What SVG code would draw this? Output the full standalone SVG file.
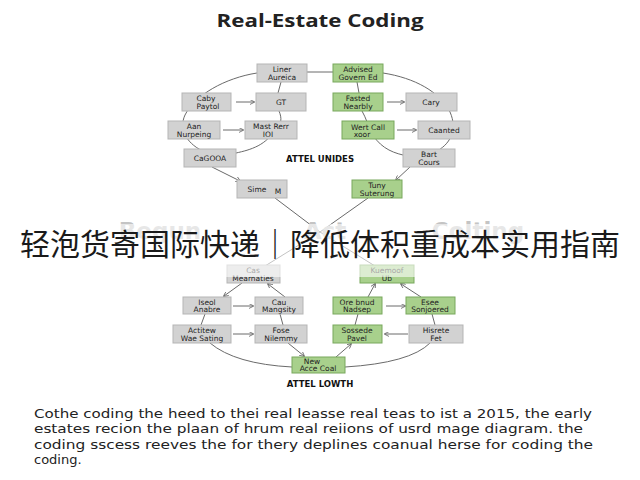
<svg xmlns="http://www.w3.org/2000/svg" width="640" height="480" viewBox="0 0 640 480">
<defs>
<marker id="ah" viewBox="0 0 6 6" refX="5" refY="3" markerWidth="5" markerHeight="5" orient="auto"><path d="M0,0 L6,3 L0,6" fill="none" stroke="#666" stroke-width="1"/></marker>
<style>
.g rect{fill:#d2d2d2;stroke:#b5b5b5;stroke-width:1}
.v rect{fill:#a8d08c;stroke:#78a85c;stroke-width:1}
.n text{font-family:"DejaVu Sans",sans-serif;font-size:7.5px;fill:#222;text-anchor:middle}
.c path,.c line{fill:none;stroke:#6a6a6a;stroke-width:1}
.ar{marker-end:url(#ah)}
.lbl{font-family:"DejaVu Sans",sans-serif;font-weight:bold;font-size:8.5px;fill:#111;text-anchor:middle}
.wm{font-family:"DejaVu Sans",sans-serif;font-weight:bold;font-size:23px;fill:#c4c4c4;text-anchor:middle}
.body{font-family:"DejaVu Sans",sans-serif;font-size:13px;fill:#222}
</style>
</defs>
<rect width="640" height="480" fill="#fff"/>
<text x="320" y="27" font-family="'Open Sans',sans-serif" font-weight="bold" font-size="17" fill="#222" text-anchor="middle" textLength="207" lengthAdjust="spacingAndGlyphs">Real-Estate Coding</text>

<g class="c" id="connectors">
<path d="M257,73 C225,78 195,95 185,115 C178,130 188,145 205,152"/>
<path d="M383,73 C415,78 440,92 450,112 C458,130 450,145 435,152"/>
<line x1="307" y1="72" x2="333" y2="72"/>
<path d="M281,82 L278,93 M279,111 C282,118 282,125 275,128 C268,145 250,150 236,153"/>
<path d="M357,82 L359,93 M362,111 C366,118 368,125 370,130 C378,146 390,152 403,155"/>
<line class="ar" x1="236" y1="102" x2="254" y2="102"/>
<line class="ar" x1="223" y1="130" x2="243" y2="130"/>
<line class="ar" x1="387" y1="102" x2="404" y2="102"/>
<line class="ar" x1="397" y1="130" x2="416" y2="130"/>
<line class="ar" x1="212" y1="167" x2="240" y2="181"/>
<line class="ar" x1="410" y1="167" x2="396" y2="180"/>
<line x1="275" y1="198" x2="320" y2="232"/>
<line x1="368" y1="198" x2="320" y2="232"/>
<line x1="320" y1="232" x2="265" y2="266"/>
<line x1="320" y1="232" x2="375" y2="266"/>
<line class="ar" x1="242" y1="283" x2="224" y2="296"/>
<line class="ar" x1="285" y1="297" x2="268" y2="284"/>
<line class="ar" x1="233" y1="306" x2="253" y2="306"/>
<line x1="205" y1="314" x2="201" y2="325"/>
<line x1="280" y1="314" x2="283" y2="325"/>
<line class="ar" x1="233" y1="334" x2="253" y2="334"/>
<line class="ar" x1="288" y1="343" x2="304" y2="356"/>
<path d="M210,343 Q235,364 292,367"/>
<path d="M345,367 Q410,363 430,343"/>
<line class="ar" x1="336" y1="357" x2="351" y2="344"/>
<line x1="358" y1="314" x2="355" y2="325"/>
<line class="ar" x1="386" y1="306" x2="405" y2="306"/>
<line class="ar" x1="408" y1="334" x2="385" y2="334"/>
<line class="ar" x1="368" y1="297" x2="375" y2="284"/>
<line class="ar" x1="421" y1="297" x2="401" y2="284"/>
<line x1="432" y1="314" x2="435" y2="325"/>
</g>

<g class="n g" id="n-liner"><rect x="257" y="64" width="50" height="18"/><text x="282" y="72">Liner</text><text x="282" y="79.5">Aureica</text></g>
<g class="n g" id="n-gt"><rect x="256" y="93" width="50" height="18"/><text x="281" y="105" font-size="9.5">GT</text></g>
<g class="n g" id="n-caby"><rect x="182" y="93" width="49" height="18"/><text x="206" y="101">Caby</text><text x="208" y="108.5">Paytol</text></g>
<g class="n g" id="n-aan"><rect x="168" y="121" width="52" height="18"/><text x="194" y="129">Aan</text><text x="194" y="136.5">Nurpeing</text></g>
<g class="n g" id="n-mast"><rect x="245" y="121" width="52" height="18"/><text x="271" y="129">Mast Rerr</text><text x="268" y="136.5">IOI</text></g>
<g class="n g" id="n-ca"><rect x="184" y="149" width="52" height="18"/><text x="210" y="161" font-size="8.5">CaGOOA</text></g>
<g class="n g" id="n-sime"><rect x="237" y="180" width="50" height="18"/><text x="257" y="192" font-size="8.5">Sime</text><text x="278" y="194">M</text></g>

<g class="n v" id="n-advised"><rect x="333" y="64" width="50" height="18"/><text x="358" y="72">Advised</text><text x="358" y="79.5">Govern Ed</text></g>
<g class="n v" id="n-fasted"><rect x="333" y="93" width="50" height="18"/><text x="358" y="101">Fasted</text><text x="358" y="108.5">Nearbly</text></g>
<g class="n g" id="n-cary"><rect x="406" y="93" width="51" height="18"/><text x="431" y="105" font-size="8.5">Cary</text></g>
<g class="n v" id="n-wert"><rect x="342" y="121" width="52" height="18"/><text x="368" y="130">Wert Call</text><text x="362" y="137">xoor</text></g>
<g class="n g" id="n-caanted"><rect x="418" y="121" width="52" height="18"/><text x="444" y="133" font-size="8.5">Caanted</text></g>
<g class="n g" id="n-bart"><rect x="403" y="149" width="52" height="18"/><text x="429" y="157">Bart</text><text x="429" y="164.5">Cours</text></g>
<g class="n v" id="n-tuny"><rect x="352" y="180" width="50" height="18"/><text x="377" y="188">Tuny</text><text x="377" y="195.5">Suterung</text></g>

<text class="lbl" x="320" y="162">ATTEL UNIDES</text>

<text class="wm" x="160" y="239">Begun</text>
<text class="wm" x="325" y="239">Act</text>
<text class="wm" x="478" y="239">Colting</text>

<g class="n g" id="n-cas"><rect x="227" y="265" width="53" height="18"/><text x="253" y="273">Cas</text><text x="253" y="280.5">Mearnaties</text></g>
<g class="n v" id="n-kuemoof"><rect x="360" y="265" width="54" height="18"/><text x="387" y="273">Kuemoof</text><text x="387" y="280.5">Ub</text></g>

<rect x="0" y="224" width="640" height="53" fill="#fff" fill-opacity="0.6"/>
<text x="320" y="255" font-family="'Noto Sans CJK SC',sans-serif" font-size="30" fill="#1a1a1a" text-anchor="middle" textLength="600" lengthAdjust="spacingAndGlyphs">轻泡货寄国际快递｜降低体积重成本实用指南</text>

<g class="n g" id="n-iseol"><rect x="183" y="297" width="48" height="17"/><text x="207" y="304.5">Iseol</text><text x="207" y="311.5">Anabre</text></g>
<g class="n g" id="n-cau"><rect x="255" y="297" width="48" height="17"/><text x="279" y="304.5">Cau</text><text x="279" y="311.5">Mangsity</text></g>
<g class="n g" id="n-actitew"><rect x="173" y="325" width="58" height="18"/><text x="202" y="333">Actitew</text><text x="202" y="340.5">Wae Sating</text></g>
<g class="n g" id="n-fose"><rect x="255" y="325" width="52" height="18"/><text x="281" y="333">Fose</text><text x="281" y="340.5">Nilemmy</text></g>
<g class="n v" id="n-new"><rect x="292" y="357" width="53" height="16"/><text x="312" y="364" font-size="6">New</text><text x="318" y="371">Acce Coal</text></g>

<g class="n v" id="n-ore"><rect x="333" y="297" width="49" height="17"/><text x="357" y="304.5">Ore bnud</text><text x="357" y="311.5">Nadsep</text></g>
<g class="n v" id="n-esee"><rect x="406" y="297" width="49" height="17"/><text x="430" y="304.5">Esee</text><text x="430" y="311.5">Sonjoered</text></g>
<g class="n v" id="n-sossede"><rect x="333" y="325" width="49" height="18"/><text x="357" y="333">Sossede</text><text x="357" y="340.5">Pavel</text></g>
<g class="n g" id="n-hisrete"><rect x="409" y="325" width="54" height="18"/><text x="436" y="333">Hisrete</text><text x="436" y="340.5">Fet</text></g>

<text class="lbl" x="320" y="387">ATTEL LOWTH</text>

<text class="body" x="34" y="418" textLength="558" lengthAdjust="spacingAndGlyphs">Cothe coding the heed to thei real leasse real teas to ist a 2015, the early</text>
<text class="body" x="34" y="433" textLength="549" lengthAdjust="spacingAndGlyphs">estates recion the plaan of hrum real reiions of usrd mage diagram. the</text>
<text class="body" x="34" y="449" textLength="559" lengthAdjust="spacingAndGlyphs">coding sscess reeves the for thery deplines coanual herse for coding the</text>
<text class="body" x="34" y="464">coding.</text>
</svg>
